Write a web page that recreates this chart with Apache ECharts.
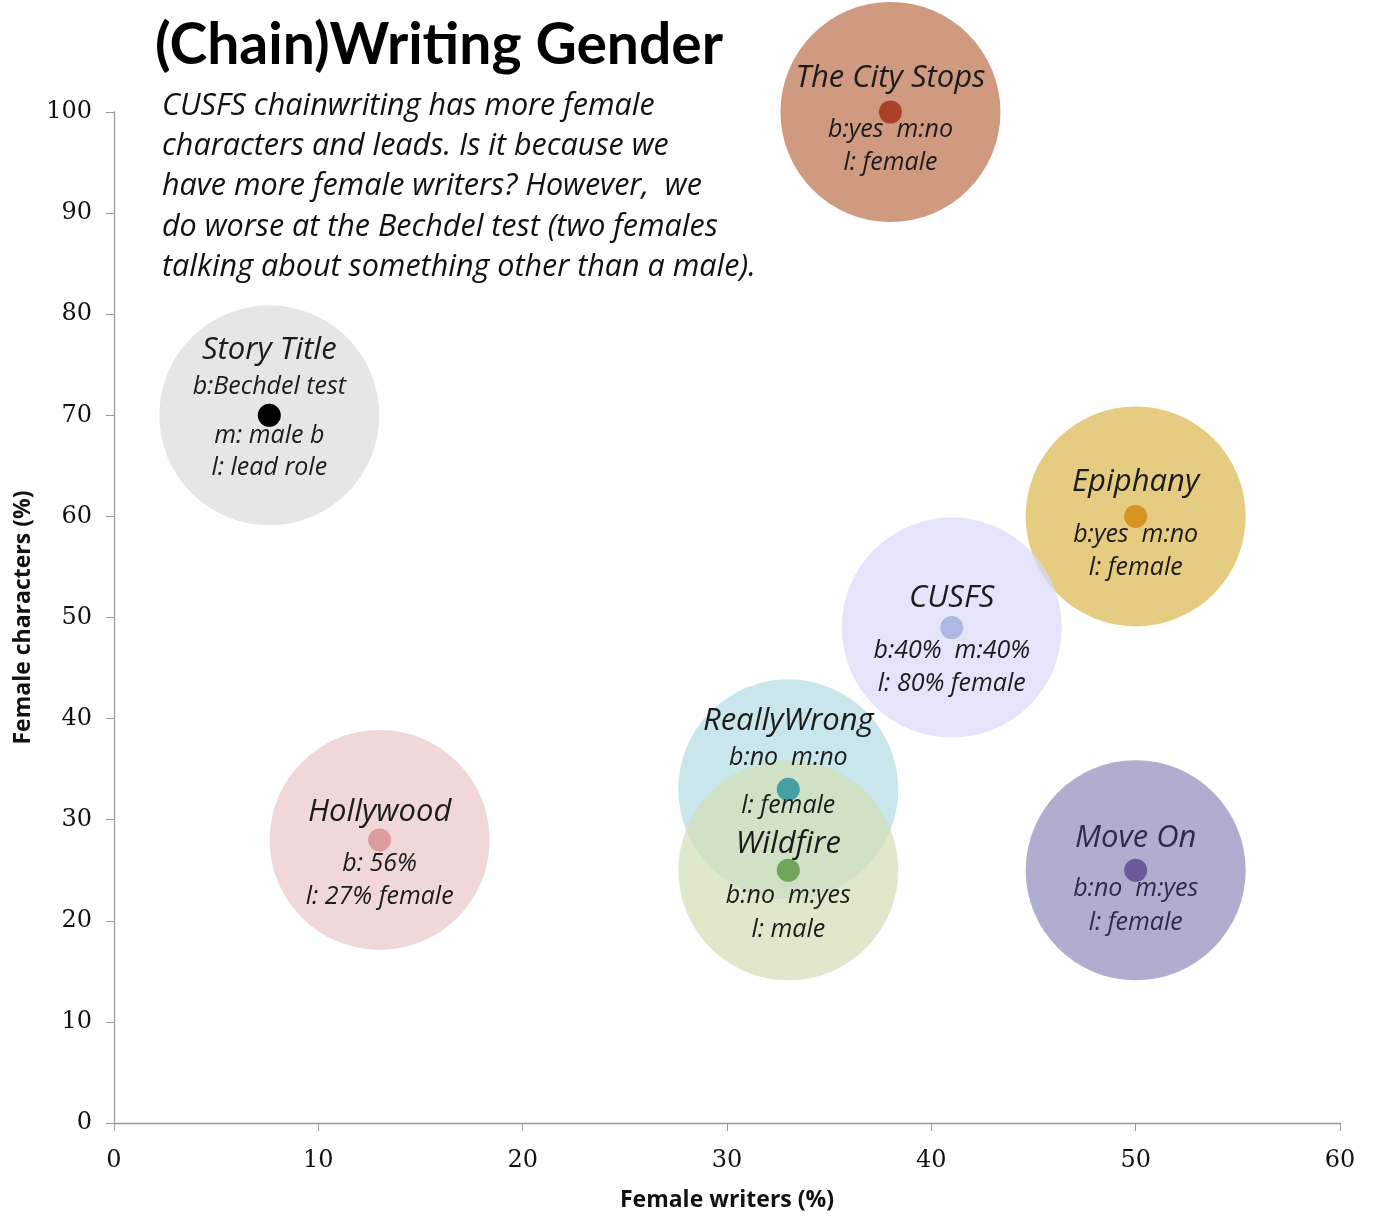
<!DOCTYPE html>
<html>
<head>
<meta charset="utf-8">
<script src="https://cdn.jsdelivr.net/npm/echarts@6/dist/echarts.min.js"></script>
<style>
  html, body { margin: 0; padding: 0; background: #fff; }
  #chart { width: 1373px; height: 1217px; }
</style>
</head>
<body>
<div id="chart"></div>
<script>
// stories and their values
var stories = ['Story Title', 'The City Stops', 'Epiphany', 'CUSFS', 'ReallyWrong', 'Wildfire', 'Hollywood', 'Move On'];
var femaleWriters = [7.6, 38, 50, 41, 33, 33, 13, 50];
var femaleCharacters = [70, 100, 60, 49, 33, 25, 28, 25];
var notes = [
    ['b:Bechdel test', 'm: male b', 'l: lead role'],
    ['b:yes  m:no', 'l: female'],
    ['b:yes  m:no', 'l: female'],
    ['b:40%  m:40%', 'l: 80% female'],
    ['b:no  m:no', 'l: female'],
    ['b:no  m:yes', 'l: male'],
    ['b: 56%', 'l: 27% female'],
    ['b:no  m:yes', 'l: female']
];
var xTicks = [0, 10, 20, 30, 40, 50, 60];
var yTicks = [0, 10, 20, 30, 40, 50, 60, 70, 80, 90, 100];

// look
var bubbleColors = ['#dcdcdc', '#bb6f48', '#dcb64b', '#d8d8f9', '#b0dbe4', '#d3deb6', '#eac7c7', '#8e8bbc'];
var dotColors = ['#000000', '#a8402a', '#d69420', '#adb8e4', '#45a0a3', '#6fa65a', '#dc9c9c', '#6a5a9a'];
// pixel offsets of the text lines from the dot: [name, line1, line2, ...]
var textOffsets = [
    [-65, -28, 21, 53],
    [-34, 18, 51],
    [-34, 18, 51],
    [-29, 23, 56],
    [-68, -31, 17],
    [-26, 26, 60],
    [-28, 24, 57],
    [-32, 19, 53]
];

var points = stories.map(function (s, i) {
    return [femaleWriters[i], femaleCharacters[i]];
});

var chart = echarts.init(document.getElementById('chart'));

var option = {
    backgroundColor: '#fff',
    animation: false,
    title: [
        {
            text: '(Chain)Writing Gender',
            left: 150,
            top: 12,
            textStyle: { fontFamily: 'Lato', fontWeight: 'bold', fontSize: 57, color: '#000' }
        },
        {
            text: 'CUSFS chainwriting has more female\ncharacters and leads. Is it because we\nhave more female writers? However,  we\ndo worse at the Bechdel test (two females\ntalking about something other than a male).',
            left: 157,
            top: 81,
            textStyle: { fontFamily: 'Open Sans', fontStyle: 'italic', fontWeight: 'normal', fontSize: 30.5, lineHeight: 40.3, color: '#111' }
        }
    ],
    grid: { left: 114, right: 33, top: 112, bottom: 94, outerBoundsMode: 'none', containLabel: false },
    xAxis: {
        type: 'value',
        min: xTicks[0],
        max: xTicks[xTicks.length - 1],
        interval: 10,
        name: 'Female writers (%)',
        nameLocation: 'middle',
        nameGap: 66,
        nameTextStyle: { fontFamily: 'Open Sans', fontWeight: 'bold', fontSize: 23, color: '#111' },
        axisLine: { show: true, lineStyle: { color: '#9a9a9a', width: 1.3 } },
        axisTick: { show: true, length: 8, lineStyle: { color: '#9a9a9a' } },
        axisLabel: { margin: 26, fontFamily: 'DejaVu Serif', fontSize: 24, color: '#111' },
        splitLine: { show: false }
    },
    yAxis: {
        type: 'value',
        min: yTicks[0],
        max: yTicks[yTicks.length - 1],
        interval: 10,
        name: 'Female characters (%)',
        nameLocation: 'middle',
        nameGap: 78,
        nameRotate: 90,
        nameTextStyle: { fontFamily: 'Open Sans', fontWeight: 'bold', fontSize: 23, color: '#111' },
        axisLine: { show: true, lineStyle: { color: '#9a9a9a', width: 1.3 } },
        axisTick: { show: true, length: 8, lineStyle: { color: '#9a9a9a' } },
        axisLabel: { margin: 22, fontFamily: 'DejaVu Serif', fontSize: 24, color: '#111' },
        splitLine: { show: false }
    },
    series: [
        {
            name: 'bubbles',
            type: 'scatter',
            symbolSize: 220,
            z: 1,
            data: points.map(function (p, i) {
                return { value: p, itemStyle: { color: bubbleColors[i], opacity: 0.7 } };
            })
        },
        {
            name: 'dots',
            type: 'scatter',
            symbolSize: 23,
            z: 2,
            data: points.map(function (p, i) {
                return { value: p, itemStyle: { color: dotColors[i], opacity: 1 } };
            })
        },
        {
            name: 'labels',
            type: 'custom',
            z: 3,
            data: points,
            renderItem: function (params, api) {
                var i = params.dataIndex;
                var c = api.coord([api.value(0), api.value(1)]);
                var offs = textOffsets[i];
                var fill = i === 7 ? '#2e2c48' : '#1c1c1c';
                var children = [{
                    type: 'text',
                    x: c[0], y: c[1] + offs[0],
                    style: {
                        text: stories[i], fill: fill,
                        font: 'italic 31px "Open Sans"',
                        align: 'center', verticalAlign: 'middle'
                    }
                }];
                notes[i].forEach(function (line, k) {
                    children.push({
                        type: 'text',
                        x: c[0], y: c[1] + offs[k + 1],
                        style: {
                            text: line, fill: fill,
                            font: 'italic 25px "Open Sans"',
                            align: 'center', verticalAlign: 'middle'
                        }
                    });
                });
                return { type: 'group', children: children };
            }
        }
    ]
};

chart.setOption(option);
</script>
</body>
</html>
